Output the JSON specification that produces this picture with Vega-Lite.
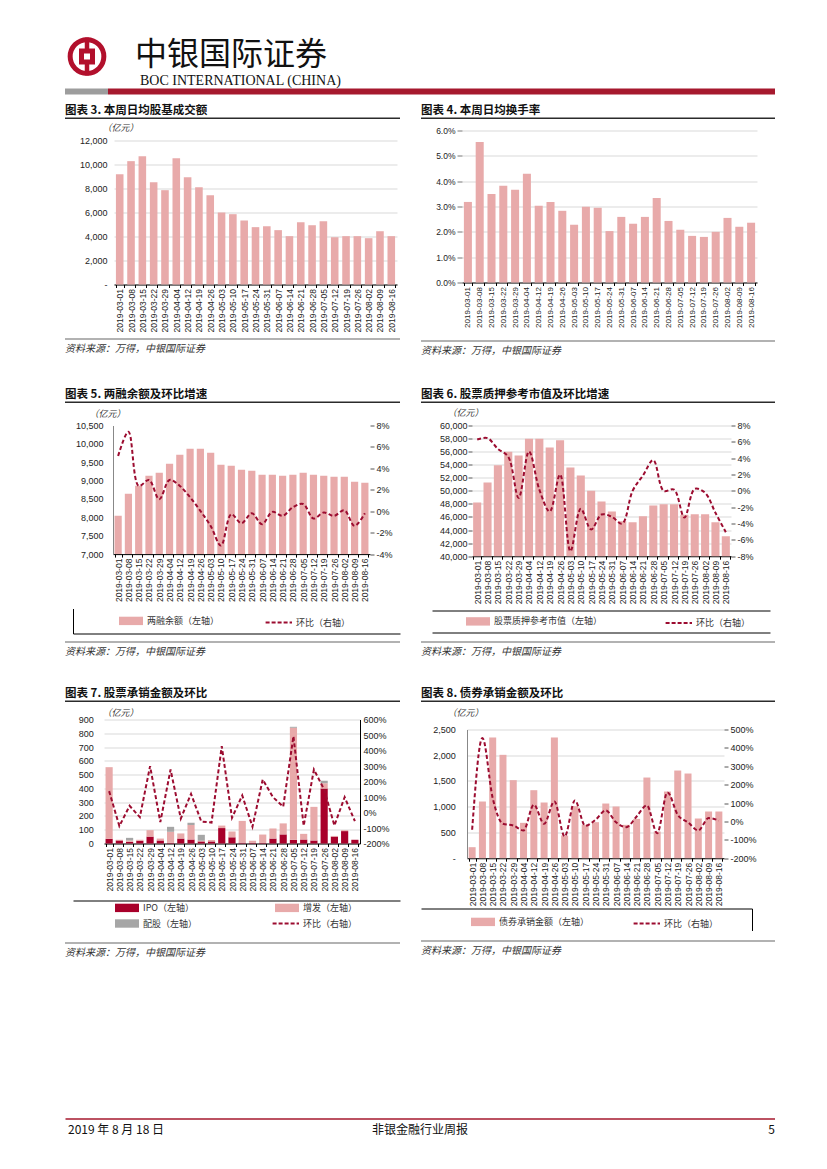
{
"$schema": "https://vega.github.io/schema/vega-lite/v6.json",
"background": "white",
"padding": {"left": 60, "top": 28.5, "right": 0, "bottom": 0},
"autosize": {"type": "pad"},
"config": {"view": {"stroke": null}, "axis": {"labelFont": "Liberation Sans", "labelColor": "#222", "titleFont": "Noto Sans CJK SC"}, "legend": {"labelFont": "Noto Sans CJK SC"}, "text": {"font": "Noto Sans CJK SC"}},
"datasets": {
"c3": [{"d":"2019-03-01","v":9190},{"d":"2019-03-08","v":10280},{"d":"2019-03-15","v":10690},{"d":"2019-03-22","v":8530},{"d":"2019-03-29","v":7860},{"d":"2019-04-04","v":10530},{"d":"2019-04-12","v":8940},{"d":"2019-04-19","v":8110},{"d":"2019-04-26","v":7440},{"d":"2019-05-03","v":6000},{"d":"2019-05-10","v":5860},{"d":"2019-05-17","v":5330},{"d":"2019-05-24","v":4780},{"d":"2019-05-31","v":4860},{"d":"2019-06-07","v":4530},{"d":"2019-06-14","v":4030},{"d":"2019-06-21","v":5190},{"d":"2019-06-28","v":4940},{"d":"2019-07-05","v":5280},{"d":"2019-07-12","v":3940},{"d":"2019-07-19","v":4030},{"d":"2019-07-26","v":4030},{"d":"2019-08-02","v":3860},{"d":"2019-08-09","v":4440},{"d":"2019-08-16","v":4030}],
"c4": [{"d":"2019-03-01","v":0.0318},{"d":"2019-03-08","v":0.0555},{"d":"2019-03-15","v":0.0349},{"d":"2019-03-22","v":0.0382},{"d":"2019-03-29","v":0.0366},{"d":"2019-04-04","v":0.0429},{"d":"2019-04-12","v":0.0303},{"d":"2019-04-19","v":0.0318},{"d":"2019-04-26","v":0.0283},{"d":"2019-05-03","v":0.0228},{"d":"2019-05-10","v":0.0299},{"d":"2019-05-17","v":0.0295},{"d":"2019-05-24","v":0.0203},{"d":"2019-05-31","v":0.0259},{"d":"2019-06-07","v":0.0232},{"d":"2019-06-14","v":0.0259},{"d":"2019-06-21","v":0.0334},{"d":"2019-06-28","v":0.0243},{"d":"2019-07-05","v":0.0208},{"d":"2019-07-12","v":0.0184},{"d":"2019-07-19","v":0.0180},{"d":"2019-07-26","v":0.0200},{"d":"2019-08-02","v":0.0255},{"d":"2019-08-09","v":0.0220},{"d":"2019-08-16","v":0.0236}],
"c5": [{"d":"2019-03-01","v":8043,"r":0.0516},{"d":"2019-03-08","v":8642,"r":0.0742},{"d":"2019-03-15","v":8860,"r":0.0236},{"d":"2019-03-22","v":9132,"r":0.0292},{"d":"2019-03-29","v":9214,"r":0.0112},{"d":"2019-04-04","v":9459,"r":0.0292},{"d":"2019-04-12","v":9704,"r":0.0236},{"d":"2019-04-19","v":9868,"r":0.0130},{"d":"2019-04-26","v":9868,"r":0.0003},{"d":"2019-05-03","v":9759,"r":-0.0137},{"d":"2019-05-10","v":9432,"r":-0.0320},{"d":"2019-05-17","v":9405,"r":-0.0028},{"d":"2019-05-24","v":9296,"r":-0.0112},{"d":"2019-05-31","v":9268,"r":-0.0019},{"d":"2019-06-07","v":9159,"r":-0.0121},{"d":"2019-06-14","v":9159,"r":-0.0006},{"d":"2019-06-21","v":9132,"r":-0.0043},{"d":"2019-06-28","v":9159,"r":0.0037},{"d":"2019-07-05","v":9214,"r":0.0068},{"d":"2019-07-12","v":9159,"r":-0.0068},{"d":"2019-07-19","v":9132,"r":-0.0012},{"d":"2019-07-26","v":9105,"r":-0.0043},{"d":"2019-08-02","v":9105,"r":0.0009},{"d":"2019-08-09","v":8969,"r":-0.0137},{"d":"2019-08-16","v":8942,"r":-0.0019}],
"c6": [{"d":"2019-03-01","v":48210,"r":0.0629},{"d":"2019-03-08","v":51280,"r":0.0645},{"d":"2019-03-15","v":53930,"r":0.0514},{"d":"2019-03-22","v":55970,"r":0.0416},{"d":"2019-03-29","v":55410,"r":-0.0086},{"d":"2019-04-04","v":57960,"r":0.0482},{"d":"2019-04-12","v":57960,"r":0.0016},{"d":"2019-04-19","v":56630,"r":-0.0253},{"d":"2019-04-26","v":57760,"r":0.0200},{"d":"2019-05-03","v":53570,"r":-0.0739},{"d":"2019-05-10","v":52350,"r":-0.0220},{"d":"2019-05-17","v":50000,"r":-0.0473},{"d":"2019-05-24","v":48370,"r":-0.0290},{"d":"2019-05-31","v":46840,"r":-0.0318},{"d":"2019-06-07","v":45360,"r":-0.0400},{"d":"2019-06-14","v":45200,"r":0.0},{"d":"2019-06-21","v":46120,"r":0.0188},{"d":"2019-06-28","v":47760,"r":0.0376},{"d":"2019-07-05","v":47960,"r":0.0},{"d":"2019-07-12","v":47960,"r":0.0016},{"d":"2019-07-19","v":46330,"r":-0.0327},{"d":"2019-07-26","v":46430,"r":0.0024},{"d":"2019-08-02","v":46430,"r":-0.0024},{"d":"2019-08-09","v":45200,"r":-0.0269},{"d":"2019-08-16","v":43060,"r":-0.0506}],
"c7": [{"d":"2019-03-01","t":"IPO（左轴）","v":34},{"d":"2019-03-01","t":"增发（左轴）","v":520},{"d":"2019-03-08","t":"IPO（左轴）","v":22},{"d":"2019-03-08","t":"增发（左轴）","v":5},{"d":"2019-03-15","t":"IPO（左轴）","v":12},{"d":"2019-03-15","t":"增发（左轴）","v":10},{"d":"2019-03-15","t":"配股（左轴）","v":19},{"d":"2019-03-22","t":"IPO（左轴）","v":20},{"d":"2019-03-22","t":"增发（左轴）","v":7},{"d":"2019-03-29","t":"IPO（左轴）","v":50},{"d":"2019-03-29","t":"增发（左轴）","v":47},{"d":"2019-04-04","t":"IPO（左轴）","v":22},{"d":"2019-04-04","t":"增发（左轴）","v":14},{"d":"2019-04-12","t":"IPO（左轴）","v":5},{"d":"2019-04-12","t":"增发（左轴）","v":80},{"d":"2019-04-12","t":"配股（左轴）","v":36},{"d":"2019-04-19","t":"IPO（左轴）","v":36},{"d":"2019-04-19","t":"增发（左轴）","v":37},{"d":"2019-04-26","t":"IPO（左轴）","v":29},{"d":"2019-04-26","t":"增发（左轴）","v":106},{"d":"2019-04-26","t":"配股（左轴）","v":15},{"d":"2019-05-03","t":"IPO（左轴）","v":15},{"d":"2019-05-03","t":"增发（左轴）","v":5},{"d":"2019-05-03","t":"配股（左轴）","v":43},{"d":"2019-05-10","t":"IPO（左轴）","v":15},{"d":"2019-05-10","t":"增发（左轴）","v":10},{"d":"2019-05-17","t":"IPO（左轴）","v":112},{"d":"2019-05-17","t":"增发（左轴）","v":18},{"d":"2019-05-24","t":"IPO（左轴）","v":45},{"d":"2019-05-24","t":"增发（左轴）","v":42},{"d":"2019-05-31","t":"IPO（左轴）","v":6},{"d":"2019-05-31","t":"增发（左轴）","v":158},{"d":"2019-06-07","t":"IPO（左轴）","v":5},{"d":"2019-06-07","t":"增发（左轴）","v":15},{"d":"2019-06-14","t":"IPO（左轴）","v":4},{"d":"2019-06-14","t":"增发（左轴）","v":61},{"d":"2019-06-21","t":"IPO（左轴）","v":36},{"d":"2019-06-21","t":"增发（左轴）","v":73},{"d":"2019-06-28","t":"IPO（左轴）","v":66},{"d":"2019-06-28","t":"增发（左轴）","v":80},{"d":"2019-07-05","t":"IPO（左轴）","v":27},{"d":"2019-07-05","t":"增发（左轴）","v":813},{"d":"2019-07-05","t":"配股（左轴）","v":7},{"d":"2019-07-12","t":"IPO（左轴）","v":29},{"d":"2019-07-12","t":"增发（左轴）","v":41},{"d":"2019-07-19","t":"IPO（左轴）","v":22},{"d":"2019-07-19","t":"增发（左轴）","v":244},{"d":"2019-07-26","t":"IPO（左轴）","v":400},{"d":"2019-07-26","t":"增发（左轴）","v":38},{"d":"2019-07-26","t":"配股（左轴）","v":17},{"d":"2019-08-02","t":"IPO（左轴）","v":50},{"d":"2019-08-02","t":"增发（左轴）","v":5},{"d":"2019-08-09","t":"IPO（左轴）","v":90},{"d":"2019-08-09","t":"增发（左轴）","v":7},{"d":"2019-08-16","t":"IPO（左轴）","v":27}],
"c7r": [{"d":"2019-03-01","r":1.38},{"d":"2019-03-08","r":-0.88},{"d":"2019-03-15","r":0.43},{"d":"2019-03-22","r":-0.30},{"d":"2019-03-29","r":2.99},{"d":"2019-04-04","r":-0.62},{"d":"2019-04-12","r":2.77},{"d":"2019-04-19","r":-0.39},{"d":"2019-04-26","r":1.20},{"d":"2019-05-03","r":-0.58},{"d":"2019-05-10","r":-0.65},{"d":"2019-05-17","r":4.28},{"d":"2019-05-24","r":-0.34},{"d":"2019-05-31","r":1.10},{"d":"2019-06-07","r":-0.92},{"d":"2019-06-14","r":2.13},{"d":"2019-06-21","r":0.99},{"d":"2019-06-28","r":0.37},{"d":"2019-07-05","r":4.92},{"d":"2019-07-12","r":-0.86},{"d":"2019-07-19","r":2.77},{"d":"2019-07-26","r":1.48},{"d":"2019-08-02","r":-0.84},{"d":"2019-08-09","r":0.99},{"d":"2019-08-16","r":-0.56}],
"c8": [{"d":"2019-03-01","v":214,"r":-0.45},{"d":"2019-03-08","v":1101,"r":4.54},{"d":"2019-03-15","v":2345,"r":1.27},{"d":"2019-03-22","v":2008,"r":-0.13},{"d":"2019-03-29","v":1516,"r":-0.22},{"d":"2019-04-04","v":687,"r":-0.49},{"d":"2019-04-12","v":1321,"r":0.91},{"d":"2019-04-19","v":1082,"r":-0.13},{"d":"2019-04-26","v":2345,"r":1.09},{"d":"2019-05-03","v":440,"r":-0.82},{"d":"2019-05-10","v":1010,"r":1.14},{"d":"2019-05-17","v":648,"r":-0.24},{"d":"2019-05-24","v":700,"r":0.09},{"d":"2019-05-31","v":1062,"r":0.60},{"d":"2019-06-07","v":1004,"r":-0.05},{"d":"2019-06-14","v":648,"r":-0.31},{"d":"2019-06-21","v":764,"r":0.27},{"d":"2019-06-28","v":1567,"r":0.87},{"d":"2019-07-05","v":518,"r":-0.64},{"d":"2019-07-12","v":1295,"r":1.58},{"d":"2019-07-19","v":1703,"r":0.36},{"d":"2019-07-26","v":1645,"r":-0.05},{"d":"2019-08-02","v":771,"r":-0.49},{"d":"2019-08-09","v":907,"r":0.18},{"d":"2019-08-16","v":907,"r":0.05}]
},
"spacing": 0,
"resolve": {"scale": {"color": "independent", "x": "independent", "y": "independent"}, "legend": {"color": "independent"}},
"vconcat": [
{"spacing": 21, "hconcat": [
  {"width": 44, "height": 44, "data": {"values": [{}]}, "layer": [
    {"mark": {"type": "point", "shape": "circle", "size": 1134, "filled": false, "stroke": "#b2102c", "strokeWidth": 5, "opacity": 1}},
    {"mark": {"type": "point", "shape": "M0,-1V1", "size": 1444, "filled": false, "stroke": "#b2102c", "strokeWidth": 4.5, "opacity": 1}},
    {"mark": {"type": "point", "shape": "square", "size": 256, "filled": true, "color": "#b2102c", "opacity": 1}},
    {"mark": {"type": "point", "shape": "square", "size": 36, "filled": true, "color": "#ffffff", "opacity": 1}}
  ]},
  {"width": 220, "height": 48, "data": {"values": [{"cn": "中银国际证券", "en": "BOC INTERNATIONAL (CHINA)"}]},
   "layer": [
    {"mark": {"type": "text", "align": "left", "baseline": "top", "dy": 5, "fontSize": 32, "font": "Noto Sans CJK SC", "color": "#111"},
     "encoding": {"text": {"field": "cn"}, "x": {"datum": 0, "type": "quantitative", "scale": {"domain": [0, 1]}, "axis": null}, "y": {"datum": 1, "type": "quantitative", "scale": {"domain": [0, 1]}, "axis": null}}},
    {"mark": {"type": "text", "align": "left", "baseline": "alphabetic", "dx": 5, "dy": 2, "fontSize": 14, "font": "Liberation Serif", "color": "#111"},
     "encoding": {"text": {"field": "en"}, "x": {"datum": 0, "type": "quantitative"}, "y": {"datum": 0, "type": "quantitative"}}}
   ]}
]},
{"width": 1, "height": 1, "data": {"values": []}, "mark": "point"},
{"spacing": 0, "hconcat": [
  {"width": 43, "height": 6, "data": {"values": []}, "mark": "point", "view": {"fill": "#9d9d9d", "stroke": null}},
  {"width": 667, "height": 6, "data": {"values": []}, "mark": "point", "view": {"fill": "#a6192e", "stroke": null}}
]},
{"width": 1, "height": 9.5, "data": {"values": []}, "mark": "point"},
{"spacing": 17, "resolve": {"scale": {"color": "independent"}, "legend": {"color": "independent"}}, "hconcat": [
 {"spacing": 0, "vconcat": [
  {"width": 335, "height": 1.5, "data": {"values": []}, "mark": "point", "view": {"fill": "#2b2b2b", "stroke": null},
   "title": {"text": "图表 3. 本周日均股基成交额", "anchor": "start", "offset": 1, "fontSize": 11.5, "fontWeight": "bold", "font": "Noto Sans CJK SC", "color": "#111"}},
  {"width": 1, "height": 3.5, "data": {"values": []}, "mark": "point"},
  {"width": 332, "height": 144, "data": {"name": "c3"},
   "mark": {"type": "bar", "color": "#e8aaaa"},
   "encoding": {
    "x": {"field": "d", "type": "ordinal", "scale": {"paddingInner": 0.33, "paddingOuter": 0.17, "rangeMin": 49},
          "axis": {"title": null, "labelAngle": -90, "labelFontSize": 8.5, "labelPadding": 1, "labelOverlap": false, "domainColor": "#000", "tickColor": "#000", "tickSize": 3, "tickBand": "extent", "grid": false}},
    "y": {"field": "v", "type": "quantitative", "scale": {"domain": [0, 12000]},
          "axis": {"offset": -49, "values": [0, 2000, 4000, 6000, 8000, 10000, 12000], "labelExpr": "datum.value === 0 ? '-' : format(datum.value, ',')", "labelPadding": 7, "labelFontSize": 9, "labelOverlap": false, "ticks": false, "domain": false, "grid": true, "gridColor": "#d9d9d9",
                   "title": "（亿元）", "titleAngle": 0, "titleAlign": "left", "titleBaseline": "middle", "titleX": -12, "titleY": -13, "titleFontSize": 9, "titleFontWeight": "normal", "titleFontStyle": "italic", "titleColor": "#333"}}
   }},
  {"width": 1, "height": 5.2, "data": {"values": []}, "mark": "point"},
  {"width": 335, "height": 1, "data": {"values": []}, "mark": "point", "view": {"fill": "#666666", "stroke": null},
   "title": {"text": "资料来源：万得，中银国际证券", "orient": "bottom", "anchor": "start", "offset": 4, "fontSize": 10, "fontStyle": "italic", "fontWeight": "normal", "font": "Noto Sans CJK SC", "color": "#333"}}
 ]},
 {"spacing": 0, "vconcat": [
  {"width": 354, "height": 1.5, "data": {"values": []}, "mark": "point", "view": {"fill": "#2b2b2b", "stroke": null},
   "title": {"text": "图表 4. 本周日均换手率", "anchor": "start", "offset": 1, "fontSize": 11.5, "fontWeight": "bold", "font": "Noto Sans CJK SC", "color": "#111"}},
  {"width": 1, "height": 6.7, "data": {"values": []}, "mark": "point"},
  {"width": 336, "height": 152, "data": {"name": "c4"},
   "mark": {"type": "bar", "color": "#e8aaaa"},
   "encoding": {
    "x": {"field": "d", "type": "ordinal", "scale": {"paddingInner": 0.32, "paddingOuter": 0.16, "rangeMin": 41},
          "axis": {"title": null, "labelAngle": -90, "labelFontSize": 8, "labelPadding": 1, "labelOverlap": false, "domainColor": "#000", "tickColor": "#000", "tickSize": 3, "tickBand": "extent", "grid": false}},
    "y": {"field": "v", "type": "quantitative", "scale": {"domain": [0, 0.06]},
          "axis": {"offset": -41, "values": [0, 0.01, 0.02, 0.03, 0.04, 0.05, 0.06], "format": ".1%", "labelPadding": 2, "labelFontSize": 8.5, "labelOverlap": false, "ticks": true, "tickSize": 5, "tickColor": "#777", "domain": false, "grid": true, "gridColor": "#d9d9d9", "title": null}}
   }},
  {"width": 1, "height": 12.3, "data": {"values": []}, "mark": "point"},
  {"width": 354, "height": 1, "data": {"values": []}, "mark": "point", "view": {"fill": "#666666", "stroke": null},
   "title": {"text": "资料来源：万得，中银国际证券", "orient": "bottom", "anchor": "start", "offset": 4, "fontSize": 10, "fontStyle": "italic", "fontWeight": "normal", "font": "Noto Sans CJK SC", "color": "#333"}}
 ]}
]},
{"width": 1, "height": 32.5, "data": {"values": []}, "mark": "point"},
{"spacing": 17, "resolve": {"scale": {"color": "independent"}, "legend": {"color": "independent"}}, "hconcat": [
 {"spacing": 0, "resolve": {"scale": {"color": "independent"}, "legend": {"color": "independent"}}, "vconcat": [
  {"width": 335, "height": 1.5, "data": {"values": []}, "mark": "point", "view": {"fill": "#2b2b2b", "stroke": null},
   "title": {"text": "图表 5. 两融余额及环比增速", "anchor": "start", "offset": 1, "fontSize": 11.5, "fontWeight": "bold", "font": "Noto Sans CJK SC", "color": "#111"}},
  {"width": 1, "height": 5.7, "data": {"values": []}, "mark": "point"},
  {"width": 305, "height": 128.6, "data": {"name": "c5"},
   "layer": [
    {"mark": {"type": "bar", "color": "#e8aaaa", "clip": true},
     "encoding": {
      "x": {"field": "d", "type": "ordinal", "scale": {"paddingInner": 0.3, "paddingOuter": 0.15, "rangeMin": 48},
            "axis": {"title": null, "labelAngle": -90, "labelFontSize": 8.5, "labelPadding": 1, "labelOverlap": false, "domainColor": "#000", "tickColor": "#000", "tickSize": 3, "tickBand": "extent", "grid": false}},
      "y": {"field": "v", "type": "quantitative", "scale": {"domain": [7000, 10500], "zero": false},
            "axis": {"offset": -48, "values": [7000, 7500, 8000, 8500, 9000, 9500, 10000, 10500], "labelExpr": "format(datum.value, ',')", "labelPadding": 10, "labelFontSize": 9, "labelOverlap": false, "ticks": false, "domain": true, "domainColor": "#888", "grid": false,
                     "title": "（亿元）", "titleAngle": 0, "titleAlign": "left", "titleBaseline": "middle", "titleX": -24, "titleY": -12, "titleFontSize": 9, "titleFontWeight": "normal", "titleFontStyle": "italic", "titleColor": "#333"}}
     }},
    {"mark": {"type": "line", "color": "#9c0c30", "strokeWidth": 2, "strokeDash": [4, 2.5], "interpolate": "catmull-rom"},
     "encoding": {
      "x": {"field": "d", "type": "ordinal"},
      "y": {"field": "r", "type": "quantitative", "scale": {"domain": [-0.04, 0.08]},
            "axis": {"orient": "right", "values": [-0.04, -0.02, 0, 0.02, 0.04, 0.06, 0.08], "format": ".0%", "labelExpr": "replace(datum.label, '−', '-')", "labelPadding": 2, "labelFontSize": 9, "labelOverlap": false, "ticks": true, "tickSize": 4, "tickColor": "#555", "domain": false, "grid": false, "title": null}}
     }}
   ],
   "resolve": {"scale": {"y": "independent"}}},
  {"width": 1, "height": 5.2, "data": {"values": []}, "mark": "point"},
  {"width": 335, "height": 25, "data": {"values": [{"s": "两融余额（左轴）"}, {"s": "环比（右轴）"}]},
   "mark": {"type": "text", "text": ""},
   "encoding": {
    "x": {"datum": 0.5, "type": "quantitative", "scale": {"domain": [0, 1], "rangeMin": 8}, "axis": {"orient": "bottom", "title": null, "labels": false, "ticks": false, "grid": false, "domain": true, "domainColor": "#000"}},
    "y": {"datum": 0.5, "type": "quantitative", "scale": {"domain": [0, 1]}, "axis": {"orient": "left", "offset": -8, "title": null, "labels": false, "ticks": false, "grid": false, "domain": true, "domainColor": "#000"}},
    "color": {"field": "s", "type": "nominal", "scale": {"domain": ["两融余额（左轴）", "环比（右轴）"], "range": ["#e8aaaa", "#9c0c30"]},
     "legend": {"orient": "none", "legendX": 59, "legendY": 5, "title": null, "direction": "horizontal", "columns": 2, "columnPadding": 41, "rowPadding": 0, "labelFontSize": 9, "labelColor": "#333", "labelOffset": 9, "symbolSize": 144, "padding": 0,
      "encode": {"symbols": {"update": {
        "shape": {"signal": "datum.value === '环比（右轴）' ? 'M-2.4,0H2' : 'M-2,-0.7H2V0.7H-2Z'"},
        "fill": {"signal": "datum.value === '环比（右轴）' ? 'transparent' : '#e8aaaa'"},
        "stroke": {"signal": "datum.value === '环比（右轴）' ? '#9c0c30' : 'transparent'"},
        "strokeWidth": {"value": 2}, "strokeDash": {"value": [4, 2]}, "opacity": {"value": 1}, "size": {"value": 144}}}}}}
   }},
  {"width": 1, "height": 8, "data": {"values": []}, "mark": "point"},
  {"width": 335, "height": 1, "data": {"values": []}, "mark": "point", "view": {"fill": "#666666", "stroke": null},
   "title": {"text": "资料来源：万得，中银国际证券", "orient": "bottom", "anchor": "start", "offset": 4, "fontSize": 10, "fontStyle": "italic", "fontWeight": "normal", "font": "Noto Sans CJK SC", "color": "#333"}}
 ]},
 {"spacing": 0, "resolve": {"scale": {"color": "independent"}, "legend": {"color": "independent"}}, "vconcat": [
  {"width": 354, "height": 1.5, "data": {"values": []}, "mark": "point", "view": {"fill": "#2b2b2b", "stroke": null},
   "title": {"text": "图表 6. 股票质押参考市值及环比增速", "anchor": "start", "offset": 1, "fontSize": 11.5, "fontWeight": "bold", "font": "Noto Sans CJK SC", "color": "#111"}},
  {"width": 1, "height": 5, "data": {"values": []}, "mark": "point"},
  {"width": 310, "height": 130.7, "data": {"name": "c6"},
   "layer": [
    {"mark": {"type": "bar", "color": "#e8aaaa", "clip": true},
     "encoding": {
      "x": {"field": "d", "type": "ordinal", "scale": {"paddingInner": 0.22, "paddingOuter": 0.11, "rangeMin": 51},
            "axis": {"title": null, "labelAngle": -90, "labelFontSize": 8.5, "labelPadding": 1, "labelOverlap": false, "domainColor": "#000", "tickColor": "#000", "tickSize": 3, "tickBand": "extent", "grid": false}},
      "y": {"field": "v", "type": "quantitative", "scale": {"domain": [40000, 60000], "zero": false},
            "axis": {"offset": -51, "values": [40000, 42000, 44000, 46000, 48000, 50000, 52000, 54000, 56000, 58000, 60000], "labelExpr": "format(datum.value, ',')", "labelPadding": 1, "labelFontSize": 9, "labelOverlap": false, "ticks": true, "tickSize": 4, "tickColor": "#555", "domain": false, "grid": true, "gridColor": "#d9d9d9",
                     "title": "（亿元）", "titleAngle": 0, "titleAlign": "left", "titleBaseline": "middle", "titleX": -25, "titleY": -13, "titleFontSize": 9, "titleFontWeight": "normal", "titleFontStyle": "italic", "titleColor": "#333"}}
     }},
    {"mark": {"type": "line", "color": "#9c0c30", "strokeWidth": 2, "strokeDash": [4, 2.5], "interpolate": "catmull-rom"},
     "encoding": {
      "x": {"field": "d", "type": "ordinal"},
      "y": {"field": "r", "type": "quantitative", "scale": {"domain": [-0.08, 0.08]},
            "axis": {"orient": "right", "values": [-0.08, -0.06, -0.04, -0.02, 0, 0.02, 0.04, 0.06, 0.08], "format": ".0%", "labelExpr": "replace(datum.label, '−', '-')", "labelPadding": 2, "labelFontSize": 9, "labelOverlap": false, "ticks": true, "tickSize": 4, "tickColor": "#555", "domain": false, "grid": false, "title": null}}
     }}
   ],
   "resolve": {"scale": {"y": "independent"}}},
  {"width": 1, "height": 5.8, "data": {"values": []}, "mark": "point"},
  {"width": 349, "height": 22, "data": {"values": [{"s": "股票质押参考市值（左轴）"}, {"s": "环比（右轴）"}]},
   "layer": [
    {"mark": {"type": "text", "text": ""},
     "encoding": {
      "x": {"datum": 0.5, "type": "quantitative", "scale": {"domain": [0, 1], "rangeMin": 11}, "axis": {"orient": "top", "title": null, "labels": false, "ticks": false, "grid": false, "domain": true, "domainColor": "#000"}},
      "y": {"datum": 0.5, "type": "quantitative", "scale": {"domain": [0, 1]}, "axis": {"orient": "right", "title": null, "labels": false, "ticks": false, "grid": false, "domain": true, "domainColor": "#000"}},
      "color": {"field": "s", "type": "nominal", "scale": {"domain": ["股票质押参考市值（左轴）", "环比（右轴）"], "range": ["#e8aaaa", "#9c0c30"]},
       "legend": {"orient": "none", "legendX": 50, "legendY": 3.5, "title": null, "direction": "horizontal", "columns": 2, "columnPadding": 58, "rowPadding": 0, "labelFontSize": 9, "labelColor": "#333", "labelOffset": 9, "symbolSize": 144, "padding": 0, "labelLimit": 200,
        "encode": {"symbols": {"update": {
          "shape": {"signal": "datum.value === '环比（右轴）' ? 'M-2.4,0H2' : 'M-2,-0.7H2V0.7H-2Z'"},
          "fill": {"signal": "datum.value === '环比（右轴）' ? 'transparent' : '#e8aaaa'"},
          "stroke": {"signal": "datum.value === '环比（右轴）' ? '#9c0c30' : 'transparent'"},
          "strokeWidth": {"value": 2}, "strokeDash": {"value": [4, 2]}, "opacity": {"value": 1}, "size": {"value": 144}}}}}}
     }},
    {"mark": {"type": "text", "text": ""},
     "encoding": {
      "x": {"datum": 0.5, "type": "quantitative", "axis": {"orient": "bottom", "title": null, "labels": false, "ticks": false, "grid": false, "domain": true, "domainColor": "#000"}},
      "y": {"datum": 0.5, "type": "quantitative", "axis": null}
     }}
   ],
   "resolve": {"axis": {"x": "independent"}}},
  {"width": 1, "height": 9, "data": {"values": []}, "mark": "point"},
  {"width": 354, "height": 1, "data": {"values": []}, "mark": "point", "view": {"fill": "#666666", "stroke": null},
   "title": {"text": "资料来源：万得，中银国际证券", "orient": "bottom", "anchor": "start", "offset": 4, "fontSize": 10, "fontStyle": "italic", "fontWeight": "normal", "font": "Noto Sans CJK SC", "color": "#333"}}
 ]}
]},
{"width": 1, "height": 30.5, "data": {"values": []}, "mark": "point"},
{"spacing": 17, "resolve": {"scale": {"color": "independent"}, "legend": {"color": "independent"}}, "hconcat": [
 {"spacing": 0, "resolve": {"scale": {"color": "independent"}, "legend": {"color": "independent"}}, "vconcat": [
  {"width": 335, "height": 1.5, "data": {"values": []}, "mark": "point", "view": {"fill": "#2b2b2b", "stroke": null},
   "title": {"text": "图表 7. 股票承销金额及环比", "anchor": "start", "offset": 1, "fontSize": 11.5, "fontWeight": "bold", "font": "Noto Sans CJK SC", "color": "#111"}},
  {"width": 1, "height": 5.4, "data": {"values": []}, "mark": "point"},
  {"width": 295, "height": 124,
   "layer": [
    {"data": {"name": "c7"},
     "mark": {"type": "bar"},
     "encoding": {
      "x": {"field": "d", "type": "ordinal", "scale": {"paddingInner": 0.3, "paddingOuter": 0.15, "rangeMin": 39},
            "axis": {"title": null, "labelAngle": -90, "labelFontSize": 8.5, "labelPadding": 1, "labelOverlap": false, "domainColor": "#000", "tickColor": "#000", "tickSize": 3, "tickBand": "extent", "grid": false}},
      "y": {"field": "v", "type": "quantitative", "stack": "zero", "scale": {"domain": [0, 900]},
            "axis": {"offset": -39, "values": [0, 100, 200, 300, 400, 500, 600, 700, 800, 900], "labelPadding": 10.7, "labelFontSize": 9, "labelOverlap": false, "ticks": false, "domain": false, "grid": true, "gridColor": "#d9d9d9",
                     "title": "（亿元）", "titleAngle": 0, "titleAlign": "left", "titleBaseline": "middle", "titleX": -2, "titleY": -7, "titleFontSize": 9, "titleFontWeight": "normal", "titleFontStyle": "italic", "titleColor": "#333"}},
      "color": {"field": "t", "type": "nominal", "scale": {"domain": ["IPO（左轴）", "增发（左轴）", "配股（左轴）"], "range": ["#a8002a", "#e8aaaa", "#a6a6a6"]}, "legend": null},
      "order": {"field": "t", "sort": "ascending"}
     }},
    {"data": {"name": "c7r"},
     "mark": {"type": "line", "color": "#9c0c30", "strokeWidth": 2, "strokeDash": [4, 2.5]},
     "encoding": {
      "x": {"field": "d", "type": "ordinal"},
      "y": {"field": "r", "type": "quantitative", "scale": {"domain": [-2, 6]},
            "axis": {"orient": "right", "values": [-2, -1, 0, 1, 2, 3, 4, 5, 6], "format": ".0%", "labelExpr": "replace(datum.label, '−', '-')", "labelPadding": 3, "labelFontSize": 9, "labelOverlap": false, "ticks": false, "domain": true, "domainColor": "#000", "grid": false, "title": null}}
     }}
   ],
   "resolve": {"scale": {"y": "independent"}}},
  {"width": 1, "height": 8.8, "data": {"values": []}, "mark": "point"},
  {"width": 335, "height": 28, "data": {"values": [{"s": "IPO（左轴）"}, {"s": "增发（左轴）"}, {"s": "配股（左轴）"}, {"s": "环比（右轴）"}]},
   "mark": {"type": "text", "text": ""},
   "encoding": {
    "x": {"datum": 0.5, "type": "quantitative", "scale": {"domain": [0, 1], "rangeMin": 8}, "axis": {"orient": "top", "title": null, "labels": false, "ticks": false, "grid": false, "domain": true, "domainColor": "#000"}},
    "y": {"datum": 0.5, "type": "quantitative", "scale": {"domain": [0, 1]}, "axis": null},
    "color": {"field": "s", "type": "nominal", "scale": {"domain": ["IPO（左轴）", "增发（左轴）", "配股（左轴）", "环比（右轴）"], "range": ["#a8002a", "#e8aaaa", "#a6a6a6", "#9c0c30"]},
     "legend": {"orient": "none", "legendX": 55, "legendY": 0, "title": null, "direction": "horizontal", "columns": 2, "columnPadding": 70, "rowPadding": -9, "labelFontSize": 9, "labelColor": "#333", "labelOffset": 9, "symbolSize": 144, "padding": 0,
      "encode": {"symbols": {"update": {
        "shape": {"signal": "datum.value === '环比（右轴）' ? 'M-2.4,0H2' : 'M-2,-0.7H2V0.7H-2Z'"},
        "fill": {"signal": "datum.value === 'IPO（左轴）' ? '#a8002a' : datum.value === '增发（左轴）' ? '#e8aaaa' : datum.value === '配股（左轴）' ? '#a6a6a6' : 'transparent'"},
        "stroke": {"signal": "datum.value === '环比（右轴）' ? '#9c0c30' : 'transparent'"},
        "strokeWidth": {"value": 2}, "strokeDash": {"value": [4, 2]}, "opacity": {"value": 1}, "size": {"value": 144}}}}}}
   }},
  {"width": 1, "height": 10, "data": {"values": []}, "mark": "point"},
  {"width": 335, "height": 1, "data": {"values": []}, "mark": "point", "view": {"fill": "#666666", "stroke": null},
   "title": {"text": "资料来源：万得，中银国际证券", "orient": "bottom", "anchor": "start", "offset": 4, "fontSize": 10, "fontStyle": "italic", "fontWeight": "normal", "font": "Noto Sans CJK SC", "color": "#333"}}
 ]},
 {"spacing": 0, "resolve": {"scale": {"color": "independent"}, "legend": {"color": "independent"}}, "vconcat": [
  {"width": 354, "height": 1.5, "data": {"values": []}, "mark": "point", "view": {"fill": "#2b2b2b", "stroke": null},
   "title": {"text": "图表 8. 债券承销金额及环比", "anchor": "start", "offset": 1, "fontSize": 11.5, "fontWeight": "bold", "font": "Noto Sans CJK SC", "color": "#111"}},
  {"width": 1, "height": 5.3, "data": {"values": []}, "mark": "point"},
  {"width": 303, "height": 128.7, "data": {"name": "c8"},
   "layer": [
    {"mark": {"type": "bar", "color": "#e8aaaa"},
     "encoding": {
      "x": {"field": "d", "type": "ordinal", "scale": {"paddingInner": 0.32, "paddingOuter": 0.16, "rangeMin": 46},
            "axis": {"title": null, "labelAngle": -90, "labelFontSize": 8.5, "labelPadding": 1, "labelOverlap": false, "domainColor": "#000", "tickColor": "#000", "tickSize": 3, "tickBand": "extent", "grid": false}},
      "y": {"field": "v", "type": "quantitative", "scale": {"domain": [0, 2500]},
            "axis": {"offset": -46, "values": [0, 500, 1000, 1500, 2000, 2500], "labelExpr": "datum.value === 0 ? '-' : format(datum.value, ',')", "labelPadding": 11.7, "labelFontSize": 9, "labelOverlap": false, "ticks": false, "domain": true, "domainColor": "#888", "grid": true, "gridColor": "#d9d9d9",
                     "title": "（亿元）", "titleAngle": 0, "titleAlign": "left", "titleBaseline": "middle", "titleX": -20, "titleY": -17, "titleFontSize": 9, "titleFontWeight": "normal", "titleFontStyle": "italic", "titleColor": "#333"}}
     }},
    {"mark": {"type": "line", "color": "#9c0c30", "strokeWidth": 2, "strokeDash": [4, 2.5], "interpolate": "monotone"},
     "encoding": {
      "x": {"field": "d", "type": "ordinal"},
      "y": {"field": "r", "type": "quantitative", "scale": {"domain": [-2, 5]},
            "axis": {"orient": "right", "values": [-2, -1, 0, 1, 2, 3, 4, 5], "format": ".0%", "labelExpr": "replace(datum.label, '−', '-')", "labelPadding": 2, "labelFontSize": 9, "labelOverlap": false, "ticks": true, "tickSize": 4, "tickColor": "#555", "domain": false, "grid": false, "title": null}}
     }}
   ],
   "resolve": {"scale": {"y": "independent"}}},
  {"width": 1, "height": 1.5, "data": {"values": []}, "mark": "point"},
  {"width": 331, "height": 22, "data": {"values": [{"s": "债券承销金额（左轴）"}, {"s": "环比（右轴）"}]},
   "mark": {"type": "text", "text": ""},
   "encoding": {
    "x": {"datum": 0.5, "type": "quantitative", "scale": {"domain": [0, 1]}, "axis": {"orient": "top", "title": null, "labels": false, "ticks": false, "grid": false, "domain": true, "domainColor": "#000"}},
    "y": {"datum": 0.5, "type": "quantitative", "scale": {"domain": [0, 1]}, "axis": {"orient": "right", "title": null, "labels": false, "ticks": false, "grid": false, "domain": true, "domainColor": "#000"}},
    "color": {"field": "s", "type": "nominal", "scale": {"domain": ["债券承销金额（左轴）", "环比（右轴）"], "range": ["#e8aaaa", "#9c0c30"]},
     "legend": {"orient": "none", "legendX": 55, "legendY": 6, "title": null, "direction": "horizontal", "columns": 2, "columnPadding": 39, "rowPadding": 0, "labelFontSize": 9, "labelColor": "#333", "labelOffset": 9, "symbolSize": 144, "padding": 0,
      "encode": {"symbols": {"update": {
        "shape": {"signal": "datum.value === '环比（右轴）' ? 'M-2.4,0H2' : 'M-2,-0.7H2V0.7H-2Z'"},
        "fill": {"signal": "datum.value === '环比（右轴）' ? 'transparent' : '#e8aaaa'"},
        "stroke": {"signal": "datum.value === '环比（右轴）' ? '#9c0c30' : 'transparent'"},
        "strokeWidth": {"value": 2}, "strokeDash": {"value": [4, 2]}, "opacity": {"value": 1}, "size": {"value": 144}}}}}}
   }},
  {"width": 1, "height": 10, "data": {"values": []}, "mark": "point"},
  {"width": 354, "height": 1, "data": {"values": []}, "mark": "point", "view": {"fill": "#666666", "stroke": null},
   "title": {"text": "资料来源：万得，中银国际证券", "orient": "bottom", "anchor": "start", "offset": 4, "fontSize": 10, "fontStyle": "italic", "fontWeight": "normal", "font": "Noto Sans CJK SC", "color": "#333"}}
 ]}
]},
{"width": 1, "height": 161, "data": {"values": []}, "mark": "point"},
{"width": 710, "height": 22, "data": {"values": [{"date": "2019 年 8 月 18 日", "name": "非银金融行业周报", "page": "5"}]},
 "layer": [
  {"mark": {"type": "text", "align": "left", "baseline": "middle", "dx": 3, "fontSize": 12, "font": "Noto Sans CJK SC", "color": "#111"},
   "encoding": {"text": {"field": "date"}, "x": {"datum": 0, "type": "quantitative", "scale": {"domain": [0, 1]}, "axis": {"orient": "top", "title": null, "labels": false, "ticks": false, "grid": false, "domain": true, "domainColor": "#a6192e", "domainWidth": 1.5}}}},
  {"mark": {"type": "text", "align": "center", "baseline": "middle", "fontSize": 12, "font": "Noto Sans CJK SC", "color": "#111"},
   "encoding": {"text": {"field": "name"}, "x": {"datum": 0.5, "type": "quantitative"}}},
  {"mark": {"type": "text", "align": "right", "baseline": "middle", "fontSize": 12, "font": "Noto Sans CJK SC", "color": "#111"},
   "encoding": {"text": {"field": "page"}, "x": {"datum": 1, "type": "quantitative"}}}
 ]}
]
}
